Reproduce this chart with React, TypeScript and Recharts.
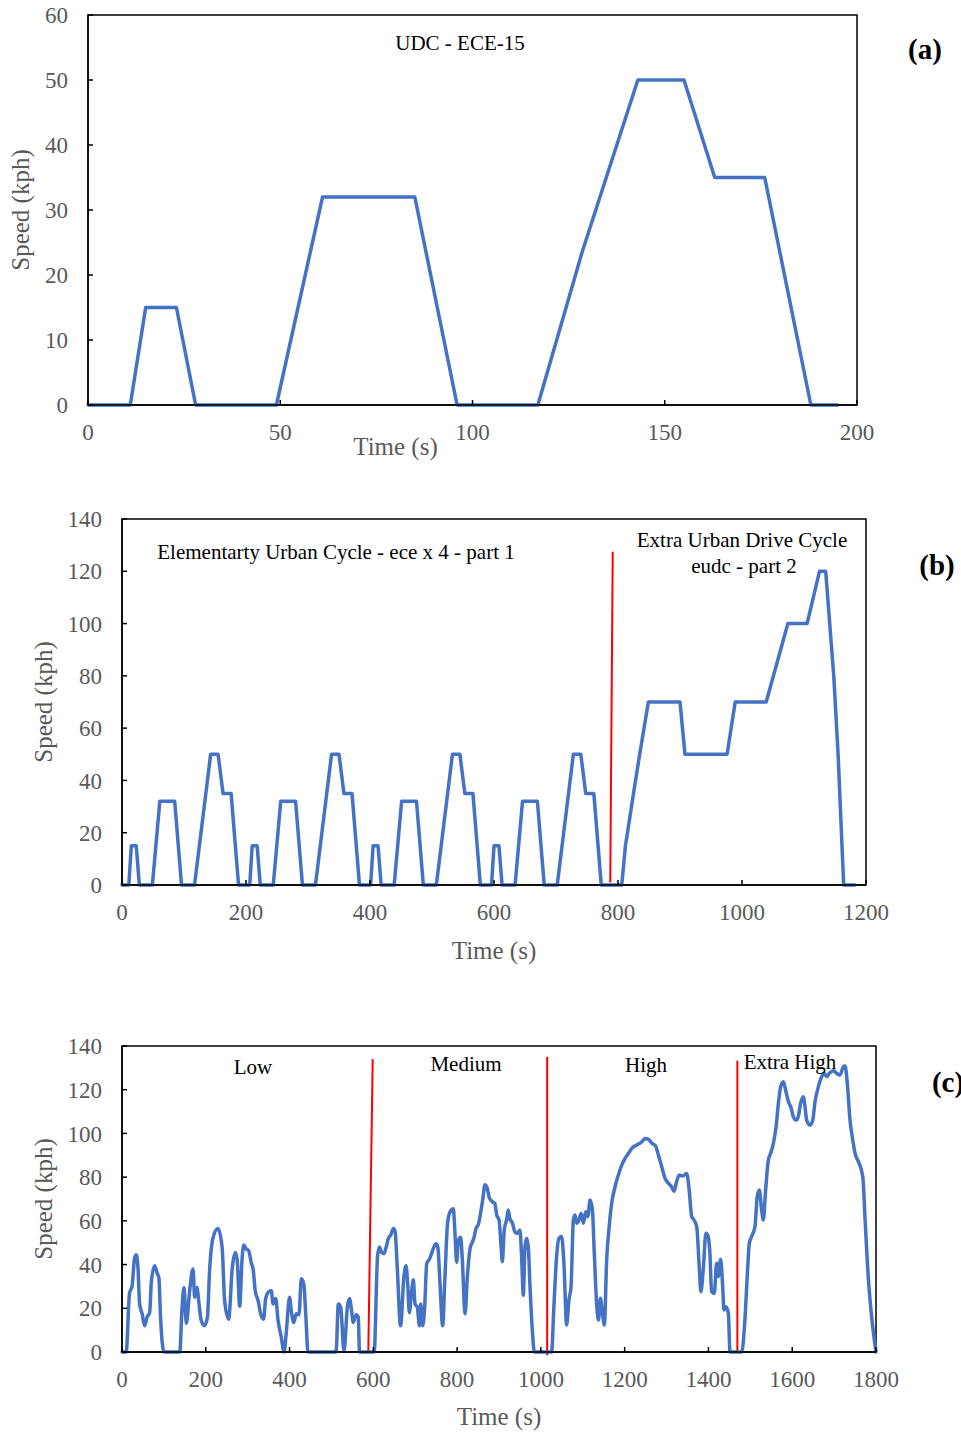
import React from 'react'
import {
  LineChart,
  Line,
  XAxis,
  YAxis,
  ReferenceLine,
  ReferenceArea,
  Label,
} from 'recharts'

// (a) UDC - ECE-15
const udcTime = [0, 11, 15, 23, 28, 49, 61, 85, 96, 117, 128.5, 143, 155, 163, 176, 188, 195]
const udcSpeed = [0, 0, 15, 15, 0, 0, 32, 32, 0, 0, 23.5, 50, 50, 35, 35, 0, 0]
const udcTimeTicks = [0, 50, 100, 150, 200]
const udcSpeedTicks = [0, 10, 20, 30, 40, 50, 60]

// (b) ece x 4 + eudc
const nedcTime = [
  0, 11, 15, 23, 28, 49, 61, 85, 96, 117, 143, 155, 163, 176, 188,
  206, 210, 218, 223, 244, 256, 280, 291, 312, 338, 350, 358, 371, 383,
  401, 405, 413, 418, 439, 451, 475, 486, 507, 533, 545, 553, 566, 578,
  596, 600, 608, 613, 634, 646, 670, 681, 702, 728, 740, 748, 761, 773,
  806, 812, 825, 835, 849, 900, 908, 976, 989, 1039, 1074, 1105, 1125, 1135, 1148, 1155, 1164, 1182,
]
const nedcSpeed = [
  0, 0, 15, 15, 0, 0, 32, 32, 0, 0, 50, 50, 35, 35, 0,
  0, 15, 15, 0, 0, 32, 32, 0, 0, 50, 50, 35, 35, 0,
  0, 15, 15, 0, 0, 32, 32, 0, 0, 50, 50, 35, 35, 0,
  0, 15, 15, 0, 0, 32, 32, 0, 0, 50, 50, 35, 35, 0,
  0, 15, 35, 50, 70, 70, 50, 50, 70, 70, 100, 100, 120, 120, 80, 50, 0, 0,
]
const nedcTimeTicks = [0, 200, 400, 600, 800, 1000, 1200]
const nedcDivider = [{ x: 791.5, y: 127.5 }, { x: 787.5, y: 1 }]

// (c) WLTC: low / medium / high / extra high
const wltcTime = [
  0, 10, 18, 24, 30, 34, 38, 42, 48, 54, 60, 66, 70, 78, 84, 88, 92, 100, 138, 143,
  148, 153.5, 161.5, 169.5, 173.5, 179, 183, 189, 197, 204, 209, 217, 229, 239, 245, 254.5, 263.5, 270.5, 275, 281,
  286.5, 290.5, 297, 302, 309, 313, 318, 325, 331, 338, 343, 350, 356.5, 360.5, 367, 372.5, 380, 387, 392, 400,
  404, 410, 416, 422.5, 428, 434, 439, 444, 511, 516.5, 522, 530, 538, 543, 548, 552, 559, 564, 567, 602,
  610, 614.5, 620, 625.5, 630, 636, 641.5, 648, 652, 657, 665, 673, 678, 682, 686, 691.5, 695.5, 699.5, 705, 710,
  713, 718, 722.5, 727.5, 734, 739, 743.5, 750, 754, 759, 765.5, 771, 777, 783, 791, 795, 799, 803, 808.5, 812.5,
  819, 824.5, 831, 837, 840.5, 845, 851, 856, 861, 866.5, 871, 877, 884, 890, 894.5, 900, 905, 908, 912.5, 918,
  922, 926, 932, 938, 944, 950, 954, 958, 962, 966, 970, 974, 979.5, 984.5, 1025.5,
  1031, 1037.5, 1043, 1049.5, 1055, 1061.5, 1067, 1072, 1077.5, 1081.5, 1085.5, 1091, 1096, 1101.5, 1107, 1112, 1117.5, 1123, 1127.5, 1133.5,
  1137.5, 1142, 1147, 1151.5, 1157, 1163, 1169, 1177, 1185, 1193, 1201, 1209, 1217, 1229, 1241, 1249, 1257, 1265, 1274, 1280.5,
  1288.5, 1296.5, 1304.5, 1312, 1318, 1324, 1330.5, 1338, 1348, 1354, 1360, 1365.5, 1372, 1378, 1382, 1387.5, 1394, 1399.5, 1403.5, 1407.5,
  1414, 1419.5, 1423.5, 1429, 1434, 1437, 1442, 1447.5, 1451.5, 1479.5,
  1487, 1493, 1497.5, 1503, 1511, 1516.5, 1521.5, 1527, 1531, 1536.5, 1543, 1548.5, 1555, 1561.5, 1567, 1572.5, 1579, 1585, 1591, 1596.5,
  1602.5, 1609, 1614.5, 1620, 1626.5, 1630.5, 1634.5, 1642.5, 1649, 1654.5, 1662.5, 1670.5, 1676, 1682.5, 1688.5, 1698.5, 1706, 1714, 1722, 1726,
  1731.5, 1738, 1744.5, 1750, 1758, 1768.5, 1774, 1782, 1788, 1800,
]
const wltcSpeed = [
  0, 0, 27, 30, 43, 44.5, 39, 22, 17.5, 12, 16, 18, 32, 39.5, 36, 34, 16, 0, 0, 19,
  29.5, 13, 28, 38, 25, 29.5, 23.5, 14.5, 12, 16, 37, 52, 56.5, 48, 23.5, 15, 39, 45.5, 42, 21,
  42, 49, 47, 46.5, 40.5, 38, 28, 23.5, 17.5, 15, 24.5, 27.5, 28, 22, 24.5, 14.5, 7, 0, 8.5, 25,
  19, 13.5, 17.5, 17, 33.5, 31, 16, 0, 0, 22, 20.5, 0.5, 20.5, 24.5, 19, 13.5, 17, 16, 0, 0,
  43.5, 48, 45.5, 45, 47.5, 52, 53.5, 56.5, 55, 39, 12, 34.5, 39.5, 31, 18, 28, 33, 22, 20.5, 12,
  22, 12, 20.5, 40.5, 42.5, 45, 47.5, 49.5, 48, 32, 12, 34.5, 58.5, 64, 65.5, 54, 41, 51, 52.5, 42,
  17.5, 34.5, 47.5, 50.5, 52.5, 56.5, 58.5, 63.5, 69.5, 76.5, 75.5, 70.5, 68.8, 68, 62.7, 60.4, 48.2, 41.3, 55.8, 60.4,
  65, 61, 59, 55, 54.3, 55.8, 43.6, 26, 48, 52, 48, 30, 10, 0, 0,
  20.7, 43.6, 52, 52.8, 40.6, 12.4, 23.8, 29.9, 60.4, 62.7, 58.9, 60.4, 63.4, 58.9, 64.2, 61.9, 69.5, 65, 45.1, 20.7,
  14.6, 24.6, 17.7, 12.4, 42.1, 57.3, 68, 75.6, 81, 85.5, 88.6, 90.9, 93.2, 94.7, 96.2, 97.7, 97.3, 95.5, 94.2, 90.1,
  84.8, 79.4, 77.2, 75.6, 73.5, 78, 81, 80.5, 81.7, 74.1, 61.9, 60.4, 57.3, 39, 27.6, 37.5, 54.3, 52.8, 45.1, 27.6,
  26.8, 40.6, 34.5, 42.4, 29.9, 19.2, 20.7, 17.7, 0, 0,
  14.6, 36, 49.7, 52.8, 57.3, 71.1, 74.1, 65, 60.4, 74.1, 87.8, 90.9, 95.5, 103.1, 113.8, 121.4, 123.7, 119.1, 114.5, 112.2,
  107.7, 106.1, 107.7, 113.8, 116.8, 112.2, 106.1, 103.8, 106.1, 114.5, 121.4, 126, 127.5, 126, 127.5, 128.7, 127.5, 126.7, 130.5, 130.8,
  122.9, 106.1, 97, 90.9, 87.1, 80.2, 60.4, 32.9, 19.1, 0,
]
const wltcTimeTicks = [0, 200, 400, 600, 800, 1000, 1200, 1400, 1600, 1800]
const wltcDividers = [
  [{ x: 598.5, y: 134 }, { x: 588, y: 0 }],
  [{ x: 1015, y: 135 }, { x: 1015, y: -1.5 }],
  [{ x: 1469, y: 133.3 }, { x: 1469, y: 0 }],
]
const speedTicks140 = [0, 20, 40, 60, 80, 100, 120, 140]

const serif = '"Liberation Serif", "Times New Roman", serif'
const blue = '#4472C4'
const grey = '#595959'
const axisStroke = { stroke: '#000', strokeWidth: 1.5 }
const tickStyle = { fill: grey, fontSize: 23 }

const toRows = (time: number[], speed: number[]) =>
  time.map((t, i) => ({ t, speed: speed[i] }))

type Pt = { x: number; y: number }

type PanelProps = {
  top: number
  height: number
  margin: { top: number; right: number; bottom: number; left: number }
  xAxisHeight: number
  rows: { t: number; speed: number }[]
  xMax: number
  xTicks: number[]
  yMax: number
  yTicks: number[]
  xTitleOffset: number
  xTitleDx?: number
  yTitleOffset: number
  smooth?: boolean
  dividers?: Pt[][]
}

function SpeedPanel(p: PanelProps) {
  return (
    <div style={{ position: 'absolute', left: 0, top: p.top }}>
      <LineChart width={961} height={p.height} data={p.rows} margin={p.margin}>
        <ReferenceArea
          x1={0}
          x2={p.xMax}
          y1={0}
          y2={p.yMax}
          fill="none"
          stroke="#000"
          strokeWidth={1.5}
        />
        <XAxis
          type="number"
          dataKey="t"
          domain={[0, p.xMax]}
          ticks={p.xTicks}
          interval={0}
          height={p.xAxisHeight}
          tickSize={-5}
          tickMargin={24}
          tick={tickStyle}
          axisLine={axisStroke}
          tickLine={axisStroke}
        >
          <Label
            value="Time (s)"
            position="insideBottom"
            offset={p.xTitleOffset}
            dx={p.xTitleDx || 0}
            fill={grey}
            fontSize={25}
          />
        </XAxis>
        <YAxis
          type="number"
          domain={[0, p.yMax]}
          ticks={p.yTicks}
          interval={0}
          width={60}
          tickSize={-5}
          tickMargin={25}
          tick={tickStyle}
          axisLine={axisStroke}
          tickLine={axisStroke}
        >
          <Label
            value="Speed (kph)"
            angle={-90}
            position="insideLeft"
            offset={p.yTitleOffset}
            fill={grey}
            fontSize={25}
            style={{ textAnchor: 'middle' }}
          />
        </YAxis>
        {(p.dividers || []).map((seg, i) => (
          <ReferenceLine
            key={i}
            segment={seg}
            stroke="#FF0000"
            strokeWidth={2}
            ifOverflow="visible"
          />
        ))}
        <Line
          type={p.smooth ? 'monotone' : 'linear'}
          dataKey="speed"
          stroke={blue}
          strokeWidth={3.5}
          strokeLinejoin="round"
          strokeLinecap="round"
          dot={false}
          isAnimationActive={false}
        />
      </LineChart>
    </div>
  )
}

function Note({ x, y, size = 21, bold = false, children }: { x: number; y: number; size?: number; bold?: boolean; children: React.ReactNode }) {
  return (
    <div
      style={{
        position: 'absolute',
        left: x,
        top: y,
        transform: 'translate(-50%, -50%)',
        whiteSpace: 'nowrap',
        fontSize: size,
        fontWeight: bold ? 700 : 400,
        lineHeight: 1,
        color: '#000',
      }}
    >
      {children}
    </div>
  )
}

export default function App() {
  return (
    <div
      style={{
        position: 'absolute',
        left: 0,
        top: 0,
        width: 961,
        height: 1434,
        overflow: 'hidden',
        background: '#fff',
        fontFamily: serif,
      }}
    >
      <style>{`svg text { font-family: ${serif}; }`}</style>
      <SpeedPanel
        top={0}
        height={480}
        margin={{ top: 15, right: 104, bottom: 0, left: 28 }}
        xAxisHeight={75}
        rows={toRows(udcTime, udcSpeed)}
        xMax={200}
        xTicks={udcTimeTicks}
        yMax={60}
        yTicks={udcSpeedTicks}
        xTitleOffset={25}
        xTitleDx={-77}
        yTitleOffset={-8}
      />
      <SpeedPanel
        top={480}
        height={500}
        margin={{ top: 39, right: 95, bottom: 0, left: 62 }}
        xAxisHeight={95}
        rows={toRows(nedcTime, nedcSpeed)}
        xMax={1200}
        xTicks={nedcTimeTicks}
        yMax={140}
        yTicks={speedTicks140}
        xTitleOffset={21}
        yTitleOffset={-19}
        dividers={[nedcDivider]}
      />
      <SpeedPanel
        top={980}
        height={454}
        margin={{ top: 66, right: 85, bottom: 0, left: 62 }}
        xAxisHeight={82}
        rows={toRows(wltcTime, wltcSpeed)}
        xMax={1800}
        xTicks={wltcTimeTicks}
        yMax={140}
        yTicks={speedTicks140}
        xTitleOffset={9}
        yTitleOffset={-19}
        smooth
        dividers={wltcDividers}
      />

      <Note x={460} y={43}>UDC - ECE-15</Note>
      <Note x={925} y={49} size={29} bold>(a)</Note>

      <Note x={336} y={552}>Elementarty Urban Cycle - ece x 4 - part 1</Note>
      <Note x={742} y={540}>Extra Urban Drive Cycle</Note>
      <Note x={744} y={566}>eudc - part 2</Note>
      <Note x={937} y={565} size={29} bold>(b)</Note>

      <Note x={948} y={1082} size={29} bold>(c)</Note>
      <Note x={253} y={1067}>Low</Note>
      <Note x={466} y={1064}>Medium</Note>
      <Note x={646} y={1065}>High</Note>
      <Note x={790} y={1062}>Extra High</Note>
    </div>
  )
}
